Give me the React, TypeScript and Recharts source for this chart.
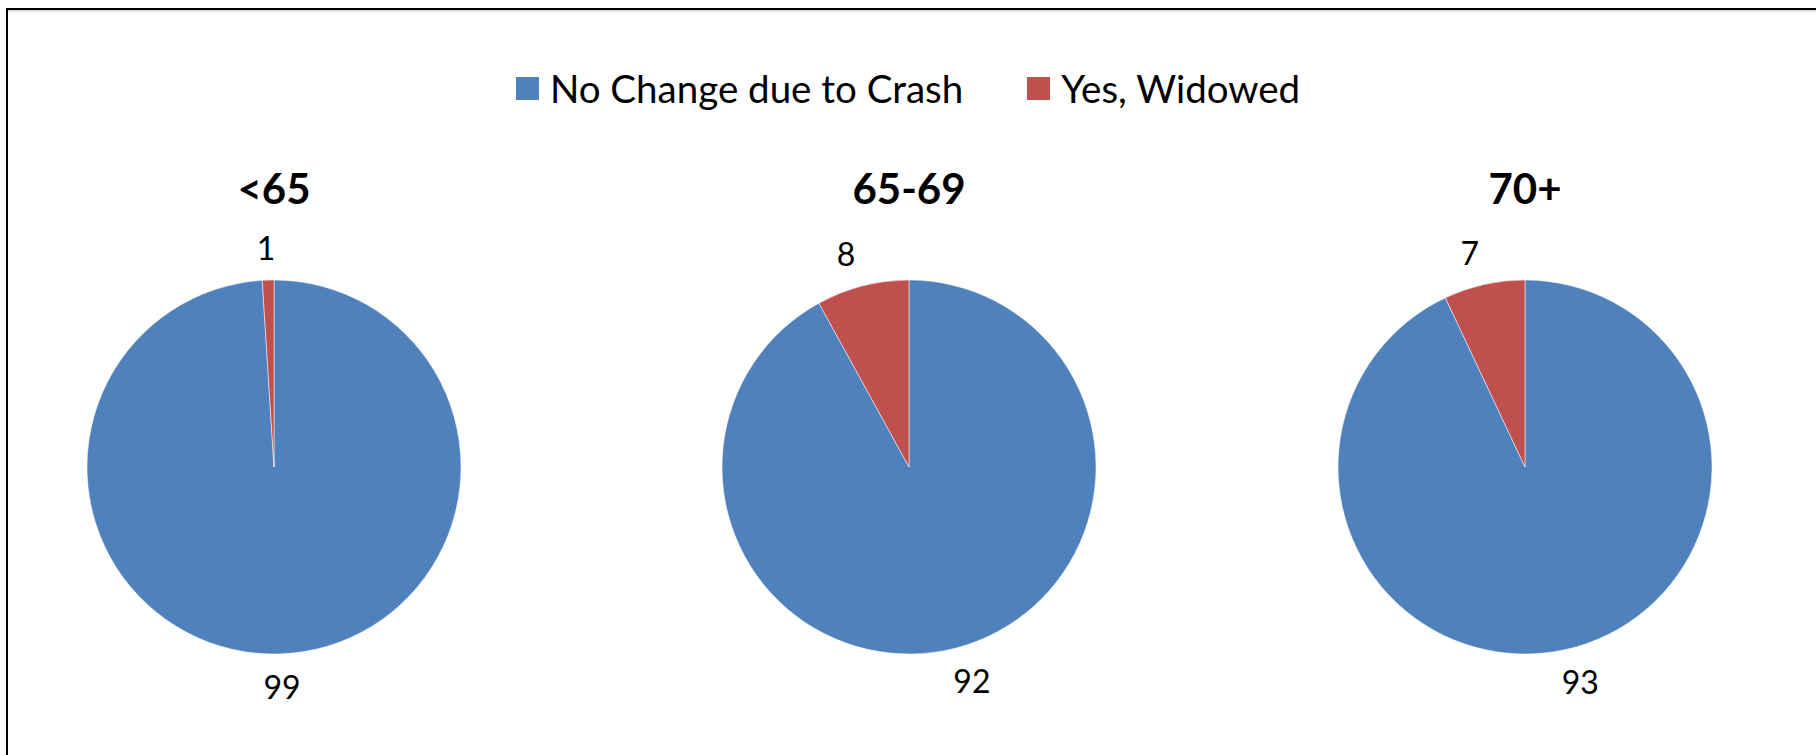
import { PieChart, Pie, Cell, Legend } from "recharts";

const seriesNames = ["No Change due to Crash", "Yes, Widowed"];
const groups = ["<65", "65-69", "70+"];
const noChange = [99, 92, 93];
const widowed = [1, 8, 7];

const COLORS = ["#4F81BD", "#C0504D"];
const FONT = "Lato, 'Open Sans', sans-serif";

const W = 1816;
const H = 755;
const centersX = [274, 909, 1525];
const CY = 467;
const R = 187;
const RAD = Math.PI / 180;

// labels sit outside the rim, pushed a little wider sideways like Excel does
const renderLabel = (p: any) => {
  const r = p.outerRadius + 33;
  const x = p.cx + r * 1.15 * Math.cos(-p.midAngle * RAD);
  const y = p.cy + r * Math.sin(-p.midAngle * RAD);
  return (
    <text x={x} y={y} textAnchor="middle" dominantBaseline="central" fill="#000" fontSize={32} fontFamily={FONT}>
      {p.value}
    </text>
  );
};

const renderLegend = () => (
  <div style={{ display: "flex", justifyContent: "center", gap: 64, fontFamily: FONT, fontSize: 38.5 }}>
    {seriesNames.map((n, i) => (
      <div key={n} style={{ display: "flex", alignItems: "center" }}>
        <span style={{ width: 23, height: 23, background: COLORS[i], marginRight: 11, display: "inline-block" }} />
        <span>{n}</span>
      </div>
    ))}
  </div>
);

export default function App() {
  const pies = groups.map((g, i) => [
    { name: seriesNames[0], value: noChange[i] },
    { name: seriesNames[1], value: widowed[i] },
  ]);
  return (
    <div style={{ position: "absolute", left: 0, top: 0, width: W, height: H, overflow: "hidden", background: "#fff" }}>
      <div
        style={{
          position: "absolute",
          left: 6,
          top: 8,
          width: W - 8,
          height: H - 10,
          borderTop: "2px solid #000",
          borderLeft: "2px solid #000",
          boxShadow: "inset 0 3px 3px -2px rgba(0,0,0,0.25)",
        }}
      />
      <div style={{ position: "absolute", left: 0, top: 0 }}>
        <PieChart width={W} height={H} margin={{ top: 0, right: 0, bottom: 0, left: 0 }}>
          {pies.map((d, i) => (
            <Pie
              key={groups[i]}
              data={d}
              dataKey="value"
              nameKey="name"
              cx={centersX[i]}
              cy={CY}
              outerRadius={R}
              startAngle={90}
              endAngle={-270}
              stroke="#fff"
              strokeWidth={0.5}
              label={renderLabel}
              labelLine={false}
              isAnimationActive={false}
            >
              {d.map((_, j) => (
                <Cell key={j} fill={COLORS[j]} />
              ))}
            </Pie>
          ))}
          <Legend content={renderLegend} wrapperStyle={{ position: "absolute", top: 65, left: 0, width: W }} />
        </PieChart>
      </div>
      {groups.map((g, i) => (
        <div
          key={g}
          style={{
            position: "absolute",
            left: centersX[i] - 150,
            width: 300,
            top: 163,
            textAlign: "center",
            fontFamily: FONT,
            fontWeight: 700,
            fontSize: 42,
            lineHeight: "50px",
          }}
        >
          {g}
        </div>
      ))}
    </div>
  );
}
